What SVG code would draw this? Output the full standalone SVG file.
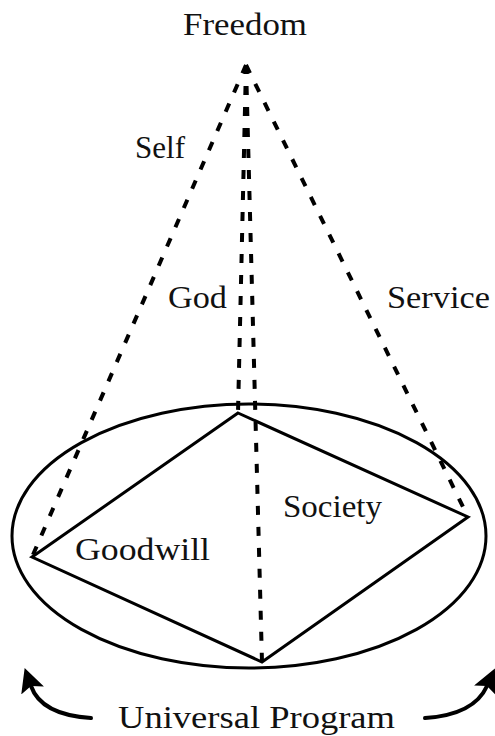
<svg xmlns="http://www.w3.org/2000/svg" width="495" height="736" viewBox="0 0 495 736">
<style>
.t{font-family:"Liberation Serif","Times New Roman",serif;font-size:32px;fill:#111}
.d{fill:none;stroke:#000;stroke-width:4;stroke-dasharray:9 12}
.s{fill:none;stroke:#000;stroke-width:3;stroke-linejoin:miter}
.a{fill:none;stroke:#000;stroke-width:4;stroke-linecap:round}
</style>
<defs>
<marker id="ah" viewBox="0 0 10 10" refX="2" refY="5" markerWidth="6" markerHeight="6" orient="auto" markerUnits="strokeWidth">
<path d="M0,0 L10,5 L0,10 L2,5 Z" fill="#000"/>
</marker>
</defs>
<rect width="495" height="736" fill="#fff"/>
<g id="connectors">
<line class="d" x1="246" y1="65" x2="32" y2="557"/>
<line class="d" x1="246" y1="65" x2="468" y2="517"/>
<line class="d" x1="246" y1="65" x2="238" y2="413"/>
<line class="d" x1="246" y1="65" x2="262" y2="662"/>
</g>
<g id="ellipse"><ellipse class="s" cx="249" cy="536" rx="237" ry="132"/></g>
<g id="diamond"><polygon class="s" points="238,413 468,517 262,662 32,557"/></g>
<g id="freedom"><text class="t" x="183" y="35" textLength="124" lengthAdjust="spacingAndGlyphs">Freedom</text></g>
<g id="self"><text class="t" x="135" y="158" textLength="50" lengthAdjust="spacingAndGlyphs">Self</text></g>
<g id="god"><text class="t" x="168" y="308" textLength="59" lengthAdjust="spacingAndGlyphs">God</text></g>
<g id="service"><text class="t" x="387" y="308" textLength="103" lengthAdjust="spacingAndGlyphs">Service</text></g>
<g id="society"><text class="t" x="283" y="517" textLength="99" lengthAdjust="spacingAndGlyphs">Society</text></g>
<g id="goodwill"><text class="t" x="75" y="560" textLength="135" lengthAdjust="spacingAndGlyphs">Goodwill</text></g>
<g id="universal-program">
<text class="t" x="118" y="728" textLength="277" lengthAdjust="spacingAndGlyphs">Universal Program</text>
<path class="a" d="M91,718 C60,716 38,706 31,686" marker-end="url(#ah)"/>
<path class="a" d="M425,718 C456,716 478,706 487,686" marker-end="url(#ah)"/>
</g>
</svg>
